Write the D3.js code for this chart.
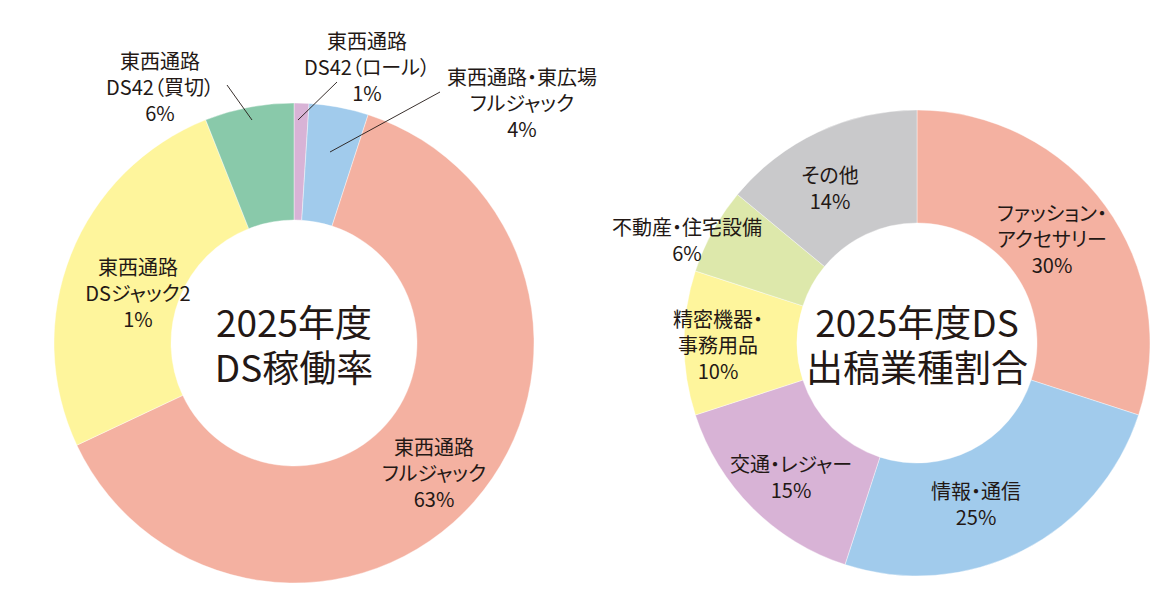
<!DOCTYPE html>
<html>
<head>
<meta charset="utf-8">
<script src="https://cdn.jsdelivr.net/npm/d3@7"></script>
<style>
  body { margin: 0; background: #fff; }
  svg { display: block; font-family: "Noto Sans CJK JP", "Noto Sans", sans-serif; }
  .lbl { font-feature-settings: "palt"; }
</style>
</head>
<body>
<svg id="chart" width="1174" height="604"></svg>
<script>
// --- dati: donut sinistro (DS稼働率) ---
const leftNames = [
  ["東西通路", "DS42（ロール）"],
  ["東西通路・東広場", "フルジャック"],
  ["東西通路", "フルジャック"],
  ["東西通路", "DSジャック2"],
  ["東西通路", "DS42（買切）"]
];
const leftValues = [1, 4, 63, 26, 6];
const leftPctText = ["1%", "4%", "63%", "1%", "6%"];
const leftColors = ["#D8B3D6", "#A1CBEC", "#F4B1A1", "#FEF59C", "#89C9AA"];

// --- dati: donut destro (出稿業種割合) ---
const rightNames = [
  ["ファッション・", "アクセサリー"],
  ["情報・通信"],
  ["交通・レジャー"],
  ["精密機器・", "事務用品"],
  ["不動産・住宅設備"],
  ["その他"]
];
const rightValues = [30, 25, 15, 10, 6, 14];
const rightColors = ["#F4B1A1", "#A1CBEC", "#D8B3D6", "#FEF59C", "#DDE8AB", "#C9C9CB"];

const titleLeft = ["2025年度", "DS稼働率"];
const titleRight = ["2025年度DS", "出稿業種割合"];

// posizioni etichette (relative al centro)
const leftLabelPos = [[73, -277], [228, -241], [140, 129], [-156, -51], [-134, -257]];
const leftLeaders = [
  [[43, -261], [4, -223]],
  [[146, -251], [36, -191]],
  null, null,
  [[-67, -258], [-42, -223]]
];
const rightLabelPos = [[135, -105], [59, 160], [-126, 133], [-199, 1], [-230, -104], [-87, -156]];

const svg = d3.select("#chart");
const textColor = "#231815";
const lineH = 26;

function drawDonut(cx, cy, rOuter, rInner, values, colors, labels, labelPos, leaders, title) {
  const g = svg.append("g").attr("transform", `translate(${cx},${cy})`);
  const pie = d3.pie().sort(null).value(d => d);
  const arc = d3.arc().innerRadius(rInner).outerRadius(rOuter);

  g.selectAll("path.slice")
    .data(pie(values))
    .join("path")
    .attr("class", "slice")
    .attr("d", arc)
    .attr("fill", (d, i) => colors[i])
    .attr("stroke", "#fff")
    .attr("stroke-width", 0.4);

  if (leaders) {
    leaders.forEach(l => {
      if (!l) return;
      g.append("line")
        .attr("x1", l[0][0]).attr("y1", l[0][1])
        .attr("x2", l[1][0]).attr("y2", l[1][1])
        .attr("stroke", textColor).attr("stroke-width", 0.9);
    });
  }

  labels.forEach((lines, i) => {
    const [lx, ly] = labelPos[i];
    const t = g.append("text")
      .attr("class", "lbl")
      .attr("text-anchor", "middle")
      .attr("dominant-baseline", "central")
      .attr("fill", textColor)
      .style("font-size", "20px");
    lines.forEach((s, k) => {
      t.append("tspan")
        .attr("x", lx)
        .attr("y", ly + (k - (lines.length - 1) / 2) * lineH)
        .text(s);
    });
  });

  const tt = g.append("text")
    .attr("text-anchor", "middle")
    .attr("dominant-baseline", "central")
    .attr("fill", textColor)
    .style("font-size", "37px");
  title.forEach((s, k) => {
    tt.append("tspan").attr("x", 0).attr("y", (k - 0.5) * 45).text(s);
  });
}

drawDonut(294, 343, 240, 123, leftValues, leftColors,
  leftNames.map((n, i) => [...n, leftPctText[i]]), leftLabelPos, leftLeaders, titleLeft);

drawDonut(917, 343, 233, 120, rightValues, rightColors,
  rightNames.map((n, i) => [...n, rightValues[i] + "%"]), rightLabelPos, null, titleRight);
</script>
</body>
</html>
